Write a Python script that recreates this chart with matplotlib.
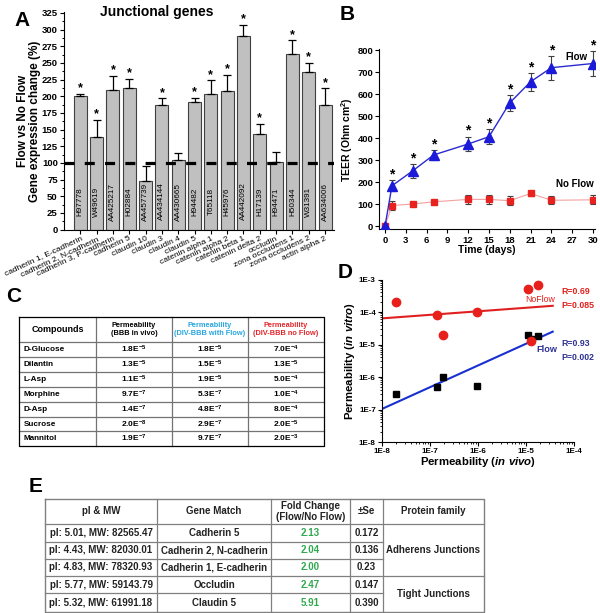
import numpy as np
import matplotlib
matplotlib.use("Agg")
import matplotlib.pyplot as plt
from matplotlib.ticker import MultipleLocator, LogLocator, NullFormatter, FuncFormatter

plt.rcParams['font.family'] = ['Liberation Sans', 'DejaVu Sans']
plt.rcParams['font.weight'] = 'bold'
plt.rcParams['axes.labelweight'] = 'bold'
plt.rcParams['mathtext.fontset'] = 'custom'
plt.rcParams['mathtext.rm'] = 'Liberation Sans:bold'
plt.rcParams['mathtext.bf'] = 'Liberation Sans:bold'
plt.rcParams['mathtext.it'] = 'Liberation Sans:bold:italic'
plt.rcParams['lines.scale_dashes'] = False

# ---- panel A data: junctional genes, flow vs no flow (%)
genes = ['cadherin 1, E-cadherin', 'cadherin 2, N-cadherin', 'cadherin 3, P-cadherin',
         'cadherin 5', 'claudin 10', 'claudin 3', 'claudin 4', 'claudin 5',
         'catenin alpha 1', 'catenin alpha 2', 'catenin beta 1', 'catenin delta 2',
         'occludin', 'zona occludens 1', 'zona occludens 2', 'actin alpha 2']
accessions = ['H97778', 'W49619', 'AA425217', 'H02884', 'AA457739', 'AA434144',
              'AA430665', 'H94482', 'T65118', 'H45976', 'AA442092', 'H17139',
              'H94471', 'H50344', 'W31391', 'AA634006']
expr_change = [200, 139, 210, 213, 73, 187, 104, 191, 203, 208, 291, 144, 102, 263, 237, 187]
expr_err = [4, 26, 21, 13, 23, 10, 11, 7, 21, 24, 16, 15, 15, 21, 13, 25]
expr_signif = [1, 1, 1, 1, 0, 1, 0, 1, 1, 1, 1, 1, 0, 1, 1, 1]

# ---- panel B data: TEER over time
days = [0, 1, 4, 7, 12, 15, 18, 21, 24, 30]
teer_flow = [0, 183, 251, 323, 373, 406, 560, 656, 720, 739]
teer_flow_err = [0, 24, 31, 24, 34, 33, 37, 42, 55, 58]
teer_noflow = [0, 93, 100, 110, 121, 121, 115, 148, 117, 119]
teer_noflow_err = [0, 20, 8, 8, 22, 20, 20, 12, 18, 20]

# ---- panel C / D data: permeability
compounds = ['D-Glucose', 'Dilantin', 'L-Asp', 'Morphine', 'D-Asp', 'Sucrose', 'Mannitol']
perm_vivo = ['1.8E-5', '1.3E-5', '1.1E-5', '9.7E-7', '1.4E-7', '2.0E-8', '1.9E-7']
perm_flow = ['1.8E-5', '1.5E-5', '1.9E-5', '5.3E-7', '4.8E-7', '2.9E-7', '9.7E-7']
perm_noflow = ['7.0E-4', '1.3E-5', '5.0E-4', '1.0E-4', '8.0E-4', '2.0E-5', '2.0E-3']
# no-flow values as they appear in the scatter plot
noflow_plotted = [7.0e-4, 1.3e-5, 5.0e-4, 1.0e-4, 8.0e-5, 2.0e-4, 2.0e-5]

# ---- panel E data
pi_mw = ['pl: 5.01, MW: 82565.47', 'pl: 4.43, MW: 82030.01', 'pl: 4.83, MW: 78320.93',
         'pl: 5.77, MW: 59143.79', 'pl: 5.32, MW: 61991.18']
gene_match = ['Cadherin 5', 'Cadherin 2, N-cadherin', 'Cadherin 1, E-cadherin',
              'Occludin', 'Claudin 5']
fold_change = ['2.13', '2.04', '2.00', '2.47', '5.91']
fold_se = ['0.172', '0.136', '0.23', '0.147', '0.390']
families = ['Adherens Junctions', 'Tight Junctions']
family_rows = [3, 2]

W, H = 600, 613
fig = plt.figure(figsize=(W / 100, H / 100), dpi=100)


def box(x0, y0, x1, y1):
    return [x0 / W, 1 - y1 / H, (x1 - x0) / W, (y1 - y0) / H]


def sci(s):
    m, e = s.split('E')
    return r'$\mathbf{%sE^{%d}}$' % (m, int(e))


# overlay in pixel coords for tables and letters (drawn on top)
ov = fig.add_axes([0, 0, 1, 1])
ov.set_xlim(0, W)
ov.set_ylim(H, 0)
ov.axis('off')
ov.set_zorder(10)

for lab, (lx, ly) in zip('ABCDE', [(22, 21), (347, 15), (14, 297), (345, 273), (36, 486)]):
    ov.text(lx, ly, lab, fontsize=15, ha='center', va='center')

# ================= A
axA = fig.add_axes(box(64, 12, 334, 229.5))
xa = np.arange(len(genes))
axA.bar(xa, expr_change, width=0.8, color='#c0c0c0', edgecolor='#404040', linewidth=0.8, zorder=2)
axA.errorbar(xa, expr_change, yerr=[np.zeros(len(xa)), expr_err], fmt='none', ecolor='black',
             elinewidth=0.9, capsize=3, capthick=0.9, zorder=3)
axA.axhline(100, color='black', lw=2.3, dashes=(7.2, 7.4), zorder=4)
for i, acc in enumerate(accessions):
    axA.text(i, 42, acc, rotation=90, ha='center', va='center', fontsize=5.9,
             fontweight='normal', zorder=5)
    if expr_signif[i]:
        axA.annotate('*', (i, expr_change[i] + expr_err[i]), xytext=(0, 4),
                     textcoords='offset points', ha='center', va='center', fontsize=9)
axA.set_xlim(-1, 15.55)
axA.set_ylim(0, 326.5)
axA.yaxis.set_major_locator(MultipleLocator(25))
axA.yaxis.set_minor_locator(MultipleLocator(12.5))
axA.set_xticks(xa)
axA.set_xticklabels(genes, rotation=25, ha='right', rotation_mode='anchor',
                    fontsize=6, fontweight='normal')
axA.tick_params(axis='y', labelsize=6.8, length=3, width=0.8, pad=1.5)
axA.tick_params(axis='y', which='minor', length=1.8, width=0.7)
axA.tick_params(axis='x', length=3, width=0.8, pad=1)
for s in ['top', 'right']:
    axA.spines[s].set_visible(False)
axA.patch.set_alpha(0)
ov.text(157, 12, 'Junctional genes', fontsize=10, ha='center', va='center')
ov.text(29, 121, 'Flow vs No Flow\nGene expression change (%)', rotation=90,
        ha='center', va='center', fontsize=8.5, linespacing=1.1)

# ================= B
axB = fig.add_axes(box(379.5, 49, 595, 229.3))
axB.errorbar(days, teer_noflow, yerr=teer_noflow_err, color='#f4a0a0', lw=0.8, marker='s',
             ms=5, mfc='#e8231f', mec='#e8231f', ecolor='0.25', elinewidth=0.8,
             capsize=2.5, capthick=0.8, zorder=3)
axB.errorbar(days, teer_flow, yerr=teer_flow_err, color='#2a2ad0', lw=1, marker='^',
             ms=6.5, mfc='#1a1ad8', mec='#1a1ad8', ecolor='0.25', elinewidth=0.8,
             capsize=2.5, capthick=0.8, zorder=4)
for d, v, e in zip(days[1:], teer_flow[1:], teer_flow_err[1:]):
    axB.annotate('*', (d, v + e), xytext=(0, 4), textcoords='offset points',
                 ha='center', va='center', fontsize=10)
axB.set_xlim(-0.8, 30.3)
axB.set_ylim(-15, 805)
axB.xaxis.set_major_locator(MultipleLocator(3))
axB.yaxis.set_major_locator(MultipleLocator(100))
axB.tick_params(labelsize=6.8, length=3, width=0.8, pad=1.5)
for s in ['top', 'right']:
    axB.spines[s].set_visible(False)
axB.set_xlabel('Time (days)', fontsize=7.5, labelpad=0)
axB.set_ylabel(r'TEER (Ohm cm$^{2}$)', fontsize=7.5, labelpad=2)
ov.text(565, 57, 'Flow', fontsize=7, ha='left', va='center')
ov.text(556, 184, 'No Flow', fontsize=7, ha='left', va='center')

# ================= C table
c_cols = [19, 96, 172, 248, 324]
c_rows = [317, 342, 357, 372, 387, 402, 417, 431, 446]
for xv in c_cols[1:-1]:
    ov.plot([xv, xv], [c_rows[0], c_rows[-1]], color='0.45', lw=0.9)
for yv in c_rows[1:-1]:
    ov.plot([c_cols[0], c_cols[-1]], [yv, yv], color='0.45', lw=0.9)
ov.plot([c_cols[0], c_cols[-1], c_cols[-1], c_cols[0], c_cols[0]],
        [c_rows[0], c_rows[0], c_rows[-1], c_rows[-1], c_rows[0]], color='black', lw=0.9)
c_heads = ['Compounds', 'Permeability\n(BBB in vivo)', 'Permeability\n(DIV-BBB with Flow)',
           'Permeability\n(DIV-BBB no Flow)']
c_head_colors = ['black', 'black', '#27a6df', '#e2272d']
c_head_sizes = [6.5, 5.3, 5.3, 5.3]
hy = (c_rows[0] + c_rows[1]) / 2
for j in range(4):
    ov.text((c_cols[j] + c_cols[j + 1]) / 2, hy, c_heads[j], ha='center', va='center',
            fontsize=c_head_sizes[j], color=c_head_colors[j], linespacing=1.05)
for r in range(len(compounds)):
    ry = (c_rows[r + 1] + c_rows[r + 2]) / 2
    ov.text(c_cols[0] + 5, ry, compounds[r], ha='left', va='center', fontsize=5.9)
    for j, col in enumerate([perm_vivo, perm_flow, perm_noflow]):
        ov.text((c_cols[j + 1] + c_cols[j + 2]) / 2, ry, sci(col[r]), ha='center',
                va='center', fontsize=6)

# ================= D
axD = fig.add_axes(box(382, 279.5, 574, 442))
axD.set_xscale('log')
axD.set_yscale('log')
vivo = np.array([float(s) for s in perm_vivo])
flow = np.array([float(s) for s in perm_flow])
noflow = np.array(noflow_plotted)
fit_x = np.array([1e-8, 3.6e-5])
for yv, col in [(noflow, '#e02020'), (flow, '#1830d0')]:
    k, b = np.polyfit(np.log10(vivo), np.log10(yv), 1)
    axD.plot(fit_x, 10 ** (k * np.log10(fit_x) + b), color=col, lw=1.5, zorder=2)
axD.plot(vivo, flow, 's', color='black', ms=5, zorder=3)
axD.plot(vivo, noflow, 'o', color='#e8201c', ms=6, zorder=4)
axD.set_xlim(1e-8, 1e-4)
axD.set_ylim(1e-8, 1e-3)
fmt = FuncFormatter(lambda v, p: '1E%d' % int(round(np.log10(v))))
for a in [axD.xaxis, axD.yaxis]:
    a.set_major_locator(LogLocator(base=10, numticks=10))
    a.set_minor_locator(LogLocator(base=10, subs=np.arange(2, 10), numticks=10))
    a.set_major_formatter(fmt)
    a.set_minor_formatter(NullFormatter())
axD.tick_params(labelsize=5.8, length=3, width=0.8, pad=1.5)
axD.tick_params(which='minor', length=1.6, width=0.6)
for s in ['top', 'right']:
    axD.spines[s].set_visible(False)
axD.patch.set_alpha(0)
axD.set_xlabel(r'Permeability ($in\ vivo$)', fontsize=8.2, labelpad=0)
axD.set_ylabel(r'Permeability ($in\ vitro$)', fontsize=8.2, labelpad=1)
ov.text(561, 292, 'R=0.69', color='#e0201c', fontsize=6.3, va='center')
ov.text(540, 299, 'NoFlow', color='#e0201c', fontsize=6.3, va='center', ha='center',
        fontweight='normal')
ov.text(561, 306, 'P=0.085', color='#e0201c', fontsize=6.3, va='center')
ov.text(561, 343, 'R=0.93', color='#2e3192', fontsize=6.3, va='center')
ov.text(547, 349, 'Flow', color='#2e3192', fontsize=6.6, va='center', ha='center')
ov.text(561, 357, 'P=0.002', color='#2e3192', fontsize=6.3, va='center')

# ================= E table
e_cols = [45, 157, 271, 350, 383, 484]
e_rows = [499, 524, 541.5, 559, 576, 593, 612]
tcol = '0.5'
for xv in e_cols[1:-1]:
    ov.plot([xv, xv], [e_rows[0], e_rows[-1]], color=tcol, lw=0.9)
for yv in e_rows[1:-1]:
    x_end = e_cols[-2] if yv not in (e_rows[1], e_rows[4]) else e_cols[-1]
    ov.plot([e_cols[0], x_end], [yv, yv], color=tcol, lw=0.9)
ov.plot([e_cols[0], e_cols[-1], e_cols[-1], e_cols[0], e_cols[0]],
        [e_rows[0], e_rows[0], e_rows[-1], e_rows[-1], e_rows[0]], color=tcol, lw=1)
e_heads = ['pl & MW', 'Gene Match', 'Fold Change\n(Flow/No Flow)', '\u00b1Se', 'Protein family']
hy = (e_rows[0] + e_rows[1]) / 2
for j, t in enumerate(e_heads):
    ov.text((e_cols[j] + e_cols[j + 1]) / 2, hy, t, ha='center', va='center', fontsize=7,
            linespacing=1.05, color='#222222')
for r in range(len(pi_mw)):
    ry = (e_rows[r + 1] + e_rows[r + 2]) / 2
    vals = [pi_mw[r], gene_match[r], fold_change[r], fold_se[r]]
    cols = ['#222222', '#222222', '#2fa84f', '#222222']
    for j in range(4):
        ov.text((e_cols[j] + e_cols[j + 1]) / 2, ry, vals[j], ha='center', va='center',
                fontsize=7, color=cols[j])
start = 0
for fam, n in zip(families, family_rows):
    fy = (e_rows[1 + start] + e_rows[1 + start + n]) / 2
    ov.text((e_cols[4] + e_cols[5]) / 2, fy, fam, ha='center', va='center', fontsize=7,
            color='#222222')
    start += n

fig.savefig('out.png', dpi=100)
